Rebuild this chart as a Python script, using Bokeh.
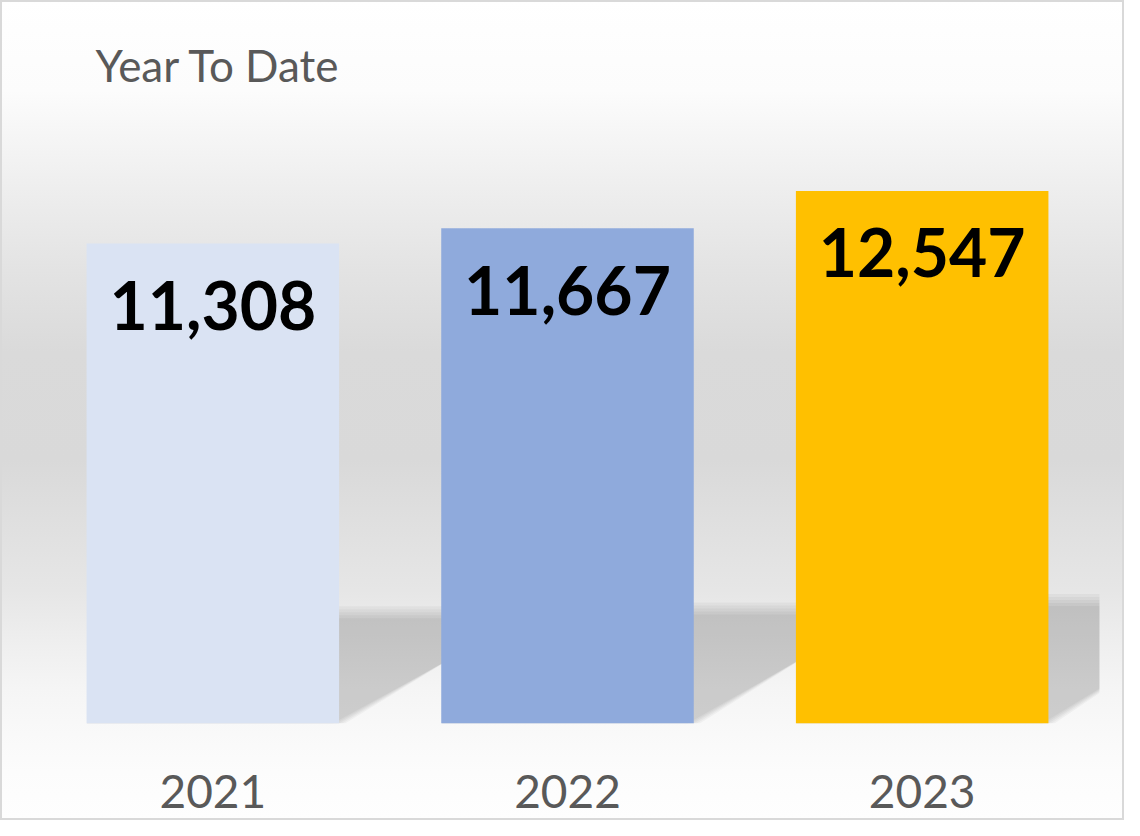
from bokeh.plotting import figure
from bokeh.models import Range1d, FixedTicker, Label
from bokeh.core.properties import value
from bokeh.embed import file_html
from bokeh.resources import INLINE

# ---- data ----
years = ["2021", "2022", "2023"]
totals = [11308, 11667, 12547]
colors = ["#DAE3F3", "#8FAADC", "#FFC000"]
title_text = "Year To Date"

xpos = list(range(len(years)))
bar_w = 0.712
px_per_unit = 0.04245  # vertical scale (pixels per value unit)
frame_h = 820 - 12 - 97

p = figure(width=1124, height=820, output_backend="svg", toolbar_location=None,
           x_range=Range1d(-0.5, len(years) - 0.5), y_range=Range1d(0, frame_h / px_per_unit),
           min_border_left=35, min_border_right=25, min_border_top=12, min_border_bottom=97,
           tools="")
p.background_fill_color = None
p.border_fill_color = None
p.outline_line_color = None
p.grid.visible = False
p.yaxis.visible = False
p.styles = {
    "background-image": "linear-gradient(to bottom, #ffffff 0%, #fcfcfc 11%, #eeeeee 23%, "
                        "#e3e3e3 33%, #dadada 43%, #d9d9d9 56%, #e2e2e2 67%, #e6e6e6 72%, "
                        "#eeeeee 78%, #f5f5f5 84%, #f8f8f8 88%, #fcfcfc 94%, #fefefe 100%)",
    "box-shadow": "inset 0 0 0 2px #d9d9d9",
}

# ---- perspective shadows ----
shadow_ratio = 0.232
shadow_dx = 0.54
for e in [-6, -3, 0, 3, 6]:
    xs, ys = [], []
    for xi, v in zip(xpos, totals):
        hs = shadow_ratio * v + e / px_per_unit
        r = xi + bar_w / 2 + e / 354
        xs.append([xi - bar_w / 2, r, r + shadow_dx, xi - bar_w / 2 + shadow_dx])
        ys.append([0, 0, hs, hs])
    p.patches(xs, ys, fill_color="black", fill_alpha=0.034, line_color=None)

# ---- bars ----
p.vbar(x=xpos, top=totals, width=bar_w, bottom=0, fill_color=colors, line_color=None)

# ---- value labels ----
p.text(x=xpos, y=totals, text=[f"{v:,}" for v in totals], text_align="center",
       text_baseline="middle", y_offset=62, text_font=value("Lato"), text_font_style="bold",
       text_font_size="66px", text_color="black")

# ---- x axis ----
ax = p.xaxis[0]
ax.ticker = FixedTicker(ticks=xpos)
ax.major_label_overrides = {xi: y for xi, y in zip(xpos, years)}
ax.axis_line_color = None
ax.major_tick_line_color = None
ax.minor_tick_line_color = None
ax.major_label_text_font = "Lato"
ax.major_label_text_font_size = "46px"
ax.major_label_text_color = "#595959"
ax.major_label_standoff = 45

# ---- title ----
p.add_layout(Label(x=60, y=659, x_units="screen", y_units="screen", text=title_text,
                   text_font="Lato", text_font_size="44px", text_color="#595959",
                   text_baseline="alphabetic", text_align="left"))

open("out.html", "w").write(file_html(p, INLINE))
